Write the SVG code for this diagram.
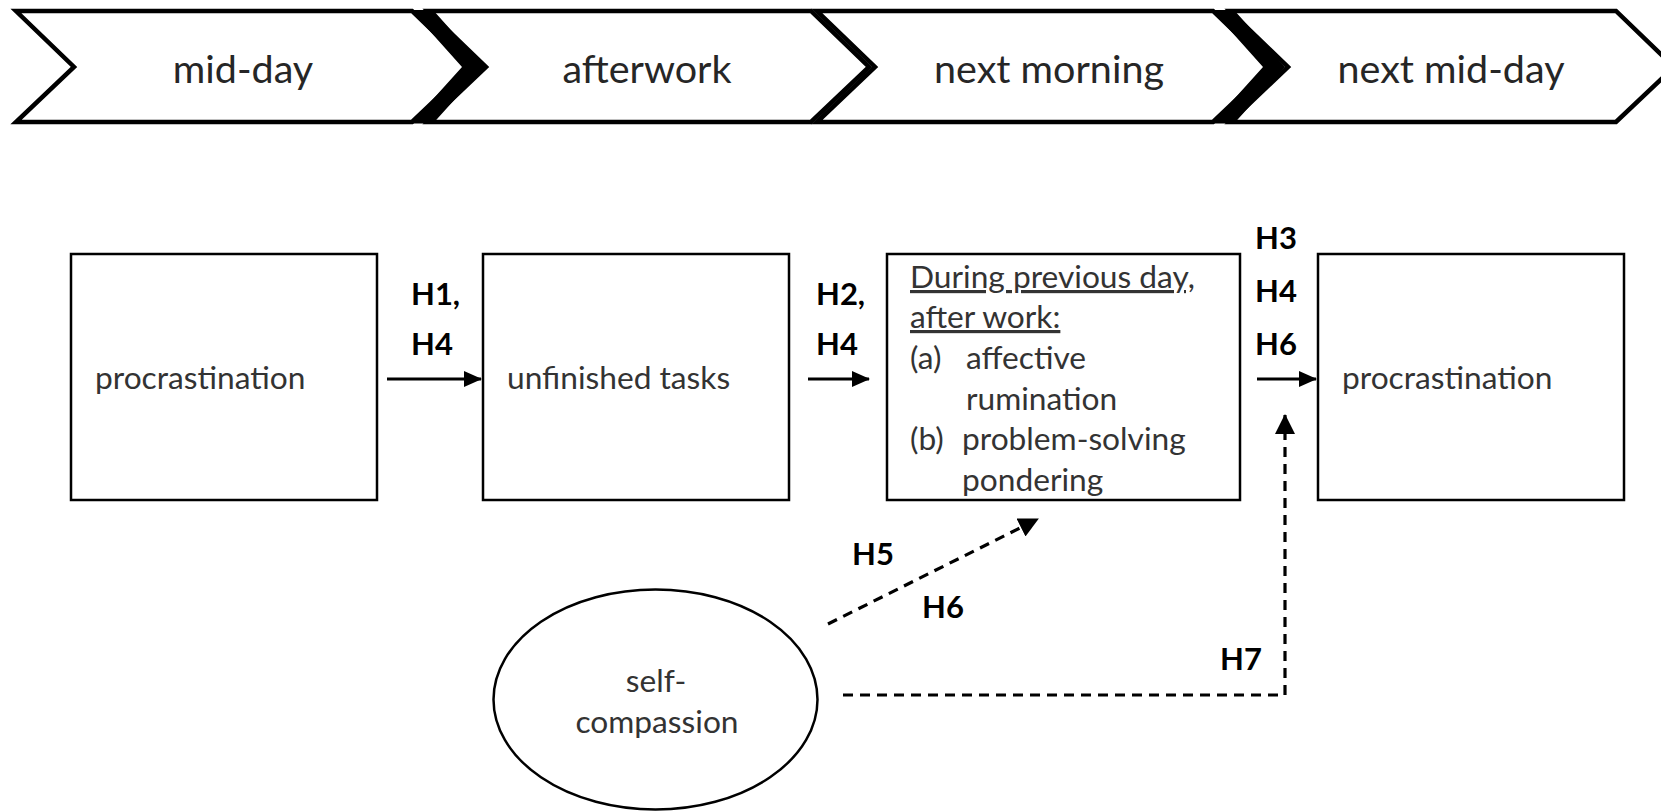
<svg xmlns="http://www.w3.org/2000/svg" width="1661" height="812" viewBox="0 0 1661 812">
<style>
  .chev { fill: #fff; stroke: #000; stroke-width: 4.5; stroke-linejoin: miter; }
  .band { fill: #000; }
  .box { fill: #fff; stroke: #000; stroke-width: 2.5; }
  .chevtxt { font-family: Lato, "Liberation Sans", sans-serif; font-size: 39.5px; fill: #262626; text-anchor: middle; }
  .txt { font-family: Lato, "Liberation Sans", sans-serif; font-size: 31.7px; fill: #333; }
  .lbl { font-family: Lato, "Liberation Sans", sans-serif; font-size: 31px; font-weight: bold; fill: #000; }
  .solid { stroke: #000; stroke-width: 3; fill: none; }
  .dash { stroke: #000; stroke-width: 3.2; fill: none; stroke-dasharray: 10 7; }
  .u { text-decoration: underline; }
</style>
<defs>
  <marker id="ah" markerUnits="userSpaceOnUse" markerWidth="18" markerHeight="16" refX="17" refY="8" orient="auto">
    <path d="M0,0 L18,8 L0,16 z" fill="#000"/>
  </marker>
  <marker id="ahd" markerUnits="userSpaceOnUse" markerWidth="20" markerHeight="20" refX="19" refY="10" orient="auto">
    <path d="M0,0 L20,10 L0,20 z" fill="#000"/>
  </marker>
</defs>
<rect width="1661" height="812" fill="#fff"/>

<g id="timeline">
  <g id="chev-midday">
    <polygon class="chev" points="16,11 412,11 470,67 412,122 16,122 74,67"/>
    <text class="chevtxt" x="243" y="83">mid-day</text>
  </g>
  <g id="chev-afterwork">
    <polygon class="chev" points="428,11 811,11 869,67 811,122 428,122 486,67"/>
    <text class="chevtxt" x="647" y="83">afterwork</text>
  </g>
  <g id="chev-nextmorning">
    <polygon class="chev" points="817,11 1213,11 1271,67 1213,122 817,122 875,67"/>
    <text class="chevtxt" x="1049" y="83">next morning</text>
  </g>
  <g id="chev-nextmidday">
    <polygon class="chev" points="1230,11 1616,11 1674,67 1616,122 1230,122 1288,67"/>
    <text class="chevtxt" x="1451" y="83">next mid-day</text>
  </g>
  <polygon class="band" points="411,10 433,10 484,67 433,123.5 411,123.5 462,67"/>
  <polygon class="band" points="1212,10 1234,10 1285,67 1234,123.5 1212,123.5 1263,67"/>
</g>

<g id="connectors">
  <line class="solid" x1="387" y1="379" x2="481" y2="379" marker-end="url(#ah)"/>
  <line class="solid" x1="808" y1="379" x2="869" y2="379" marker-end="url(#ah)"/>
  <line class="solid" x1="1257" y1="379" x2="1316" y2="379" marker-end="url(#ah)"/>
  <line class="dash" x1="828" y1="624" x2="1038" y2="519" marker-end="url(#ahd)"/>
  <polyline class="dash" points="843,695 1285,695 1285,415" marker-end="url(#ahd)"/>
</g>

<g id="box-procrastination">
  <rect class="box" x="71" y="254" width="306" height="246"/>
  <text class="txt" x="95" y="389">procrastination</text>
</g>
<g id="box-unfinished">
  <rect class="box" x="483" y="254" width="306" height="246"/>
  <text class="txt" x="507" y="389">unfinished tasks</text>
</g>
<g id="box-rumination">
  <rect class="box" x="887" y="254" width="353" height="246"/>
  <text class="txt u" x="910" y="288">During previous day,</text>
  <text class="txt u" x="910" y="328">after work:</text>
  <text class="txt" x="910" y="369">(a)</text>
  <text class="txt" x="966" y="369">affective</text>
  <text class="txt" x="966" y="410">rumination</text>
  <text class="txt" x="910" y="450">(b)</text>
  <text class="txt" x="962" y="450">problem-solving</text>
  <text class="txt" x="962" y="491">pondering</text>
</g>
<g id="box-procrastination2">
  <rect class="box" x="1318" y="254" width="306" height="246"/>
  <text class="txt" x="1342" y="389">procrastination</text>
</g>
<g id="ellipse-selfcompassion">
  <ellipse class="box" cx="655.5" cy="699.5" rx="162" ry="110"/>
  <text class="txt" x="656" y="692" text-anchor="middle">self-</text>
  <text class="txt" x="657" y="733" text-anchor="middle">compassion</text>
</g>

<g id="labels">
  <text class="lbl" x="411" y="305">H1,</text>
  <text class="lbl" x="411" y="355">H4</text>
  <text class="lbl" x="816" y="305">H2,</text>
  <text class="lbl" x="816" y="355">H4</text>
  <text class="lbl" x="1255" y="249">H3</text>
  <text class="lbl" x="1255" y="302">H4</text>
  <text class="lbl" x="1255" y="355">H6</text>
  <text class="lbl" x="852" y="565">H5</text>
  <text class="lbl" x="922" y="618">H6</text>
  <text class="lbl" x="1220" y="670">H7</text>
</g>
</svg>
